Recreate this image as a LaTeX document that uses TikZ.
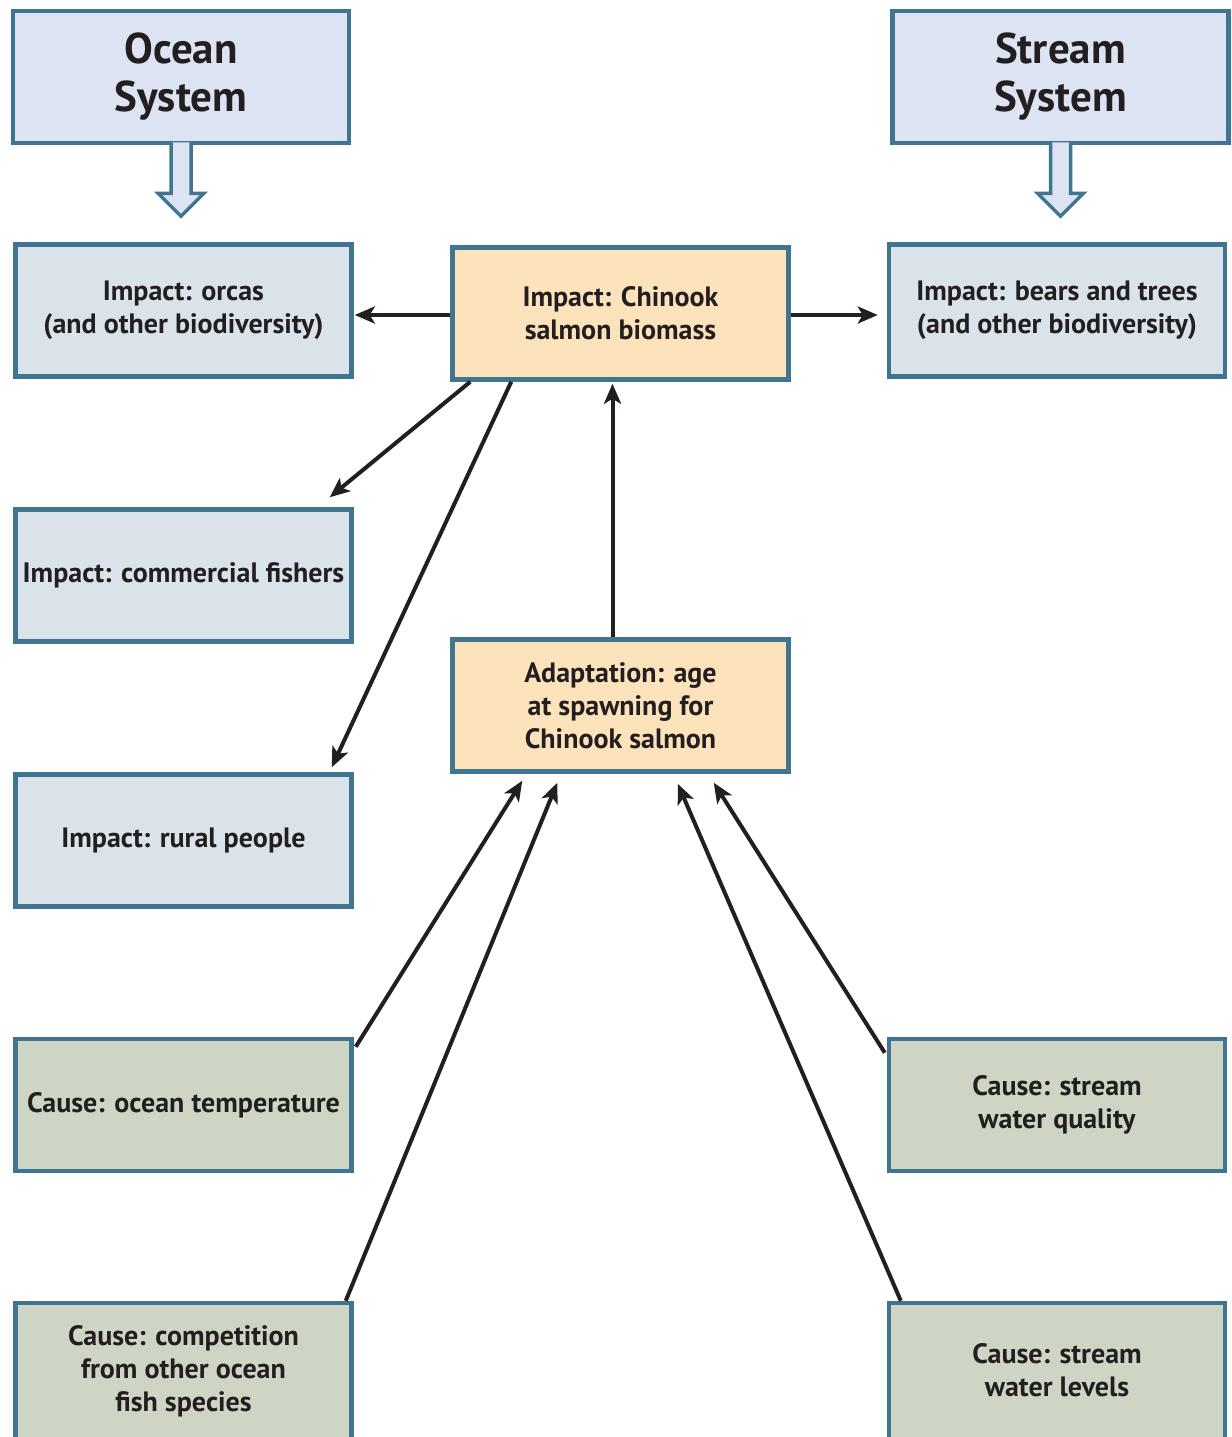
\documentclass[tikz,border=0pt]{standalone}
\usepackage{fontspec}
\setmainfont{PT Sans}
\usetikzlibrary{arrows.meta,calc}
\definecolor{bord}{HTML}{3F7591}
\definecolor{titlefill}{HTML}{DCE3F3}
\definecolor{impfill}{HTML}{DAE2EA}
\definecolor{salfill}{HTML}{FCE3BC}
\definecolor{causefill}{HTML}{CFD5C4}
\definecolor{ink}{HTML}{231F20}
\begin{document}
\begin{tikzpicture}[x=1pt,y=-1pt,
  txt/.style={text=ink,align=center,font=\bfseries\fontsize{28}{33}\selectfont},
  box/.style={txt,draw=bord,line width=4.5pt,minimum width=336pt,minimum height=132pt,inner sep=2pt},
  titlebox/.style={box,fill=titlefill,font=\bfseries\fontsize{43}{48}\selectfont},
  impbox/.style={box,fill=impfill},
  salbox/.style={box,fill=salfill},
  causebox/.style={box,fill=causefill},
  conn/.style={draw=ink,line width=4pt,-{Stealth[length=20pt,width=17pt,inset=5pt]}},
  hollow/.style={draw=bord,fill=titlefill,line width=3.5pt,line join=miter}]
\useasboundingbox (0,0) rectangle (1231,1437);
\fill[white] (0,0) rectangle (1231,1437);
% title boxes
\node[titlebox] (ocean) at (181,77) {Ocean\\System};
\node[titlebox] (stream) at (1060.5,77) {Stream\\System};
% hollow arrows
\draw[hollow] ($(ocean.south)+(-10,-3)$) -- ++(0,51) -- ++(-13,0) -- ++(23,23) -- ++(23,-23) -- ++(-13,0) -- ++(0,-51);
\draw[hollow] ($(stream.south)+(-10,-3)$) -- ++(0,51) -- ++(-13,0) -- ++(23,23) -- ++(23,-23) -- ++(-13,0) -- ++(0,-51);
% boxes
\node[impbox] (orcas) at (183.5,310.5) {Impact: orcas\\(and other biodiversity)};
\node[salbox] (biomass) at (620.5,313.5) {Impact: Chinook\\salmon biomass};
\node[impbox] (bears) at (1057,310.5) {Impact: bears and trees\\(and other biodiversity)};
\node[impbox] (fishers) at (183.5,575.5) {Impact: commercial fishers};
\node[impbox] (rural) at (183.5,840.5) {Impact: rural people};
\node[salbox] (adapt) at (620.5,705.5) {Adaptation: age\\at spawning for\\Chinook salmon};
\node[causebox] (otemp) at (183.5,1105) {Cause: ocean temperature};
\node[causebox] (quality) at (1057,1105) {Cause: stream\\water quality};
\node[causebox,minimum height=150pt] (compet) at (183.5,1378) {};
\node[txt] (competlabel) at (183.5,1371) {Cause: competition\\from other ocean\\fish species};
\node[causebox,minimum height=150pt] (levels) at (1057,1378) {};
\node[txt] (levelslabel) at (1057,1370) {Cause: stream\\water levels};
% connectors
\draw[conn] (biomass.west |- 0,315) -- ($(orcas.east |- 0,315)+(1,0)$);
\draw[conn] (biomass.east |- 0,315) -- ($(bears.west |- 0,315)+(-9,0)$);
\draw[conn] ($(biomass.south west)+(20,0)$) -- ($(fishers.north east)+(-24,-10)$);
\draw[conn] ($(biomass.south west)+(61,0)$) -- ($(rural.north east)+(-22,-5)$);
\draw[conn] ($(adapt.north)+(-8,0)$) -- ($(biomass.south)+(-8,2)$);
\draw[conn] ($(otemp.north east)+(2,10)$) -- ($(adapt.south west)+(72,7)$);
\draw[conn] ($(compet.north east)+(-8,0)$) -- ($(adapt.south west)+(107,9)$);
\draw[conn] ($(quality.north west)+(-2,16)$) -- ($(adapt.south east)+(-77,9)$);
\draw[conn] ($(levels.north west)+(14,0)$) -- ($(adapt.south east)+(-113,10)$);
\end{tikzpicture}
\end{document}
